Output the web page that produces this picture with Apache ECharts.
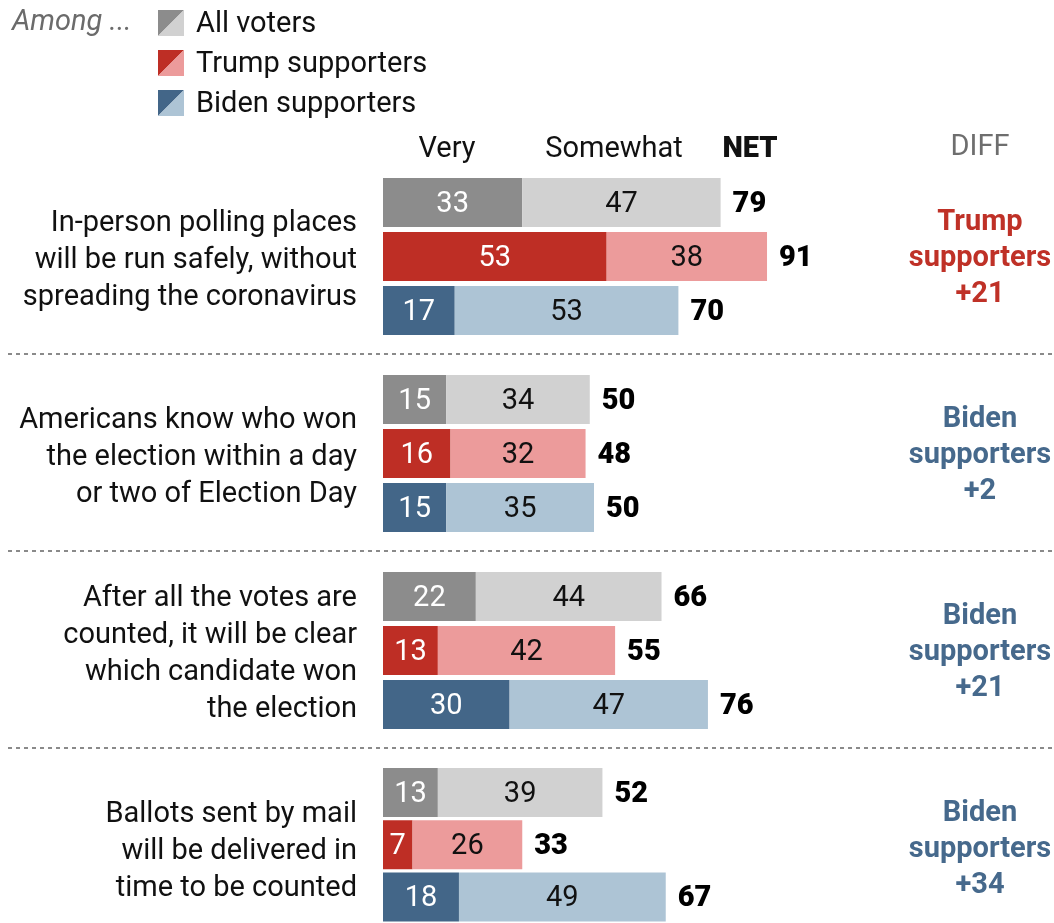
<!DOCTYPE html>
<html>
<head>
<meta charset="utf-8">
<script src="https://cdn.jsdelivr.net/npm/echarts@6/dist/echarts.min.js"></script>
<style>
html,body{margin:0;padding:0;background:#fff;}
#chart{width:1054px;height:923px;}
</style>
</head>
<body>
<div id="chart"></div>
<script>
// ---- data ----
const questions = [
  'In-person polling places\nwill be run safely, without\nspreading the coronavirus',
  'Americans know who won\nthe election within a day\nor two of Election Day',
  'After all the votes are\ncounted, it will be clear\nwhich candidate won\nthe election',
  'Ballots sent by mail\nwill be delivered in\ntime to be counted'
];
const groupsAmong = ['All voters', 'Trump supporters', 'Biden supporters'];
const veryAll = [33, 15, 22, 13];
const somewhatAll = [47, 34, 44, 39];
const netAll = [79, 50, 66, 52];
const veryTrump = [53, 16, 13, 7];
const somewhatTrump = [38, 32, 42, 26];
const netTrump = [91, 48, 55, 33];
const veryBiden = [17, 15, 30, 18];
const somewhatBiden = [53, 35, 47, 49];
const netBiden = [70, 50, 76, 67];
const diffWho = ['Trump', 'Biden', 'Biden', 'Biden'];
const diffValue = ['+21', '+2', '+21', '+34'];
const headers = ['Very', 'Somewhat', 'NET', 'DIFF'];

// ---- styles ----
const FONT = 'Roboto';
const FS = 29;
const darkCol = ['#8c8c8c', '#be2e25', '#436688'];
const lightCol = ['#d1d1d1', '#ec9b9b', '#adc4d5'];
const diffCol = { Trump: '#bf3127', Biden: '#46698c' };

const gridLeft = 383, gridWidth = 422, firstTop = 175.5, groupStep = 197, bandH = 54;
const gridH = bandH * 3;

const chart = echarts.init(document.getElementById('chart'));

const grids = [], xAxes = [], yAxes = [], series = [], graphics = [];
for (let g = 0; g < 4; g++) {
  const top = firstTop + g * groupStep;
  grids.push({ left: gridLeft, top: top, width: gridWidth, height: gridH });
  xAxes.push({ gridIndex: g, type: 'value', min: 0, max: 100, show: false });
  yAxes.push({ gridIndex: g, type: 'category', data: groupsAmong, inverse: true, show: false });
  const very = [veryAll[g], veryTrump[g], veryBiden[g]];
  const some = [somewhatAll[g], somewhatTrump[g], somewhatBiden[g]];
  const net = [netAll[g], netTrump[g], netBiden[g]];
  series.push({
    type: 'bar', xAxisIndex: g, yAxisIndex: g, stack: 's' + g, barWidth: 49,
    data: very.map((v, i) => ({ value: v, itemStyle: { color: darkCol[i] } })),
    label: { show: true, position: 'inside', offset: [0, 2], color: '#fff', fontFamily: FONT, fontSize: FS },
    silent: true, animation: false
  });
  series.push({
    type: 'bar', xAxisIndex: g, yAxisIndex: g, stack: 's' + g, barWidth: 49,
    data: some.map((v, i) => ({ value: v, itemStyle: { color: lightCol[i] } })),
    label: { show: true, position: 'inside', offset: [0, 2], color: '#111', fontFamily: FONT, fontSize: FS },
    silent: true, animation: false
  });
  series.push({
    type: 'scatter', xAxisIndex: g, yAxisIndex: g, symbolSize: 0,
    itemStyle: { color: '#000', opacity: 1 },
    data: net.map((n, i) => ({ value: [very[i] + some[i], i], net: n })),
    label: {
      show: true, position: 'right', distance: 12, offset: [0, 2], color: '#000',
      fontFamily: FONT, fontSize: FS, fontWeight: 900,
      formatter: p => String(p.data.net)
    },
    silent: true, animation: false
  });
  const cy = top + gridH / 2;
  graphics.push({
    type: 'text', x: 357, y: cy + 4,
    style: { text: questions[g], fontFamily: FONT, fontSize: FS, fill: '#111',
      align: 'right', verticalAlign: 'middle', lineHeight: 37 }
  });
  graphics.push({
    type: 'text', x: 980, y: cy + 2,
    style: { text: diffWho[g] + '\nsupporters\n' + diffValue[g], fontFamily: FONT, fontSize: FS,
      fontWeight: 'bold', fill: diffCol[diffWho[g]], align: 'center', verticalAlign: 'middle', lineHeight: 36 }
  });
  if (g < 3) {
    const ly = top + gridH + (groupStep - gridH) / 2 - 1;
    graphics.push({
      type: 'line', shape: { x1: 8, y1: ly, x2: 1054, y2: ly },
      style: { stroke: '#8a8a8a', lineWidth: 2, lineDash: [4, 4] }
    });
  }
}

// headers
const headerX = [447, 614, 750, 980];
const headerY = [150, 150, 150, 148];
headers.forEach((h, i) => {
  graphics.push({
    type: 'text', x: headerX[i], y: headerY[i],
    style: { text: h, fontFamily: FONT, fontSize: FS, fontWeight: i === 2 ? 900 : 'normal',
      fill: i === 3 ? '#6e6e6e' : '#111', align: 'center', verticalAlign: 'middle' }
  });
});

// legend
graphics.push({
  type: 'text', x: 12, y: 23,
  style: { text: 'Among ...', fontFamily: FONT, fontSize: FS, fontStyle: 'italic', fill: '#6b6b6b',
    align: 'left', verticalAlign: 'middle' }
});
groupsAmong.forEach((name, i) => {
  const y0 = 10 + i * 40, x0 = 158, s = 26;
  graphics.push({ type: 'polygon', shape: { points: [[x0, y0], [x0 + s, y0], [x0, y0 + s]] }, style: { fill: darkCol[i] } });
  graphics.push({ type: 'polygon', shape: { points: [[x0 + s, y0], [x0 + s, y0 + s], [x0, y0 + s]] }, style: { fill: lightCol[i] } });
  graphics.push({
    type: 'text', x: 196, y: y0 + 15,
    style: { text: name, fontFamily: FONT, fontSize: FS, fill: '#111', align: 'left', verticalAlign: 'middle' }
  });
});

chart.setOption({
  animation: false,
  backgroundColor: '#fff',
  grid: grids,
  xAxis: xAxes,
  yAxis: yAxes,
  series: series,
  graphic: graphics
});
</script>
</body>
</html>
